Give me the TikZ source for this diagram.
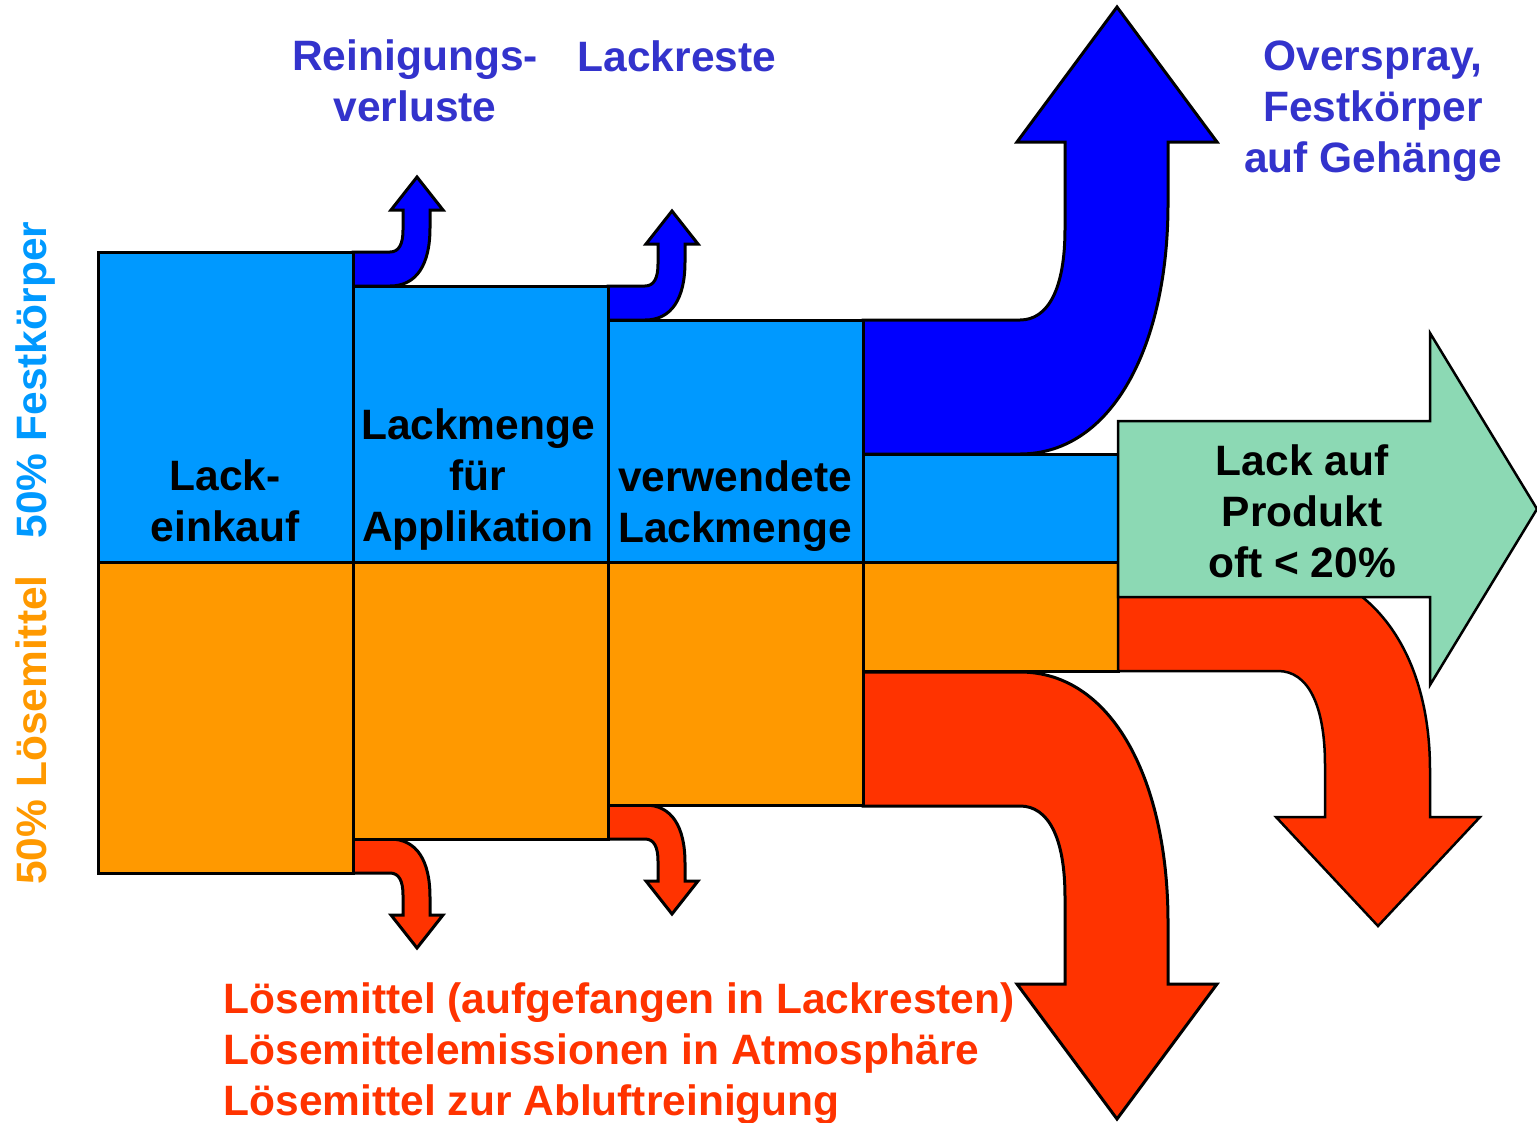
\documentclass[tikz,border=0pt]{standalone}
\usepackage{fontspec}
\setmainfont{Liberation Sans}
\definecolor{solidblue}{RGB}{0,153,255}
\definecolor{solvorange}{RGB}{255,153,0}
\definecolor{lossblue}{RGB}{0,0,255}
\definecolor{lossred}{RGB}{255,51,0}
\definecolor{productgreen}{RGB}{140,217,180}
\definecolor{txtblue}{RGB}{51,51,204}
\begin{document}
\begin{tikzpicture}[x=1pt,y=-1pt,line width=3pt,line join=miter,
  flow/.style={draw=black},
  lbl/.style={font=\fontsize{42.5}{51}\selectfont\bfseries,inner sep=0pt,align=center},
  pics/smallbend/.style={code={
    \path[flow,fill=#1] (0,0) -- (0,-34) -- (37,-34)
      .. controls (46,-34) and (50,-42) .. (50,-56) -- (50,-76)
      -- (38,-76) -- (64,-109) -- (90,-76) -- (77,-76) -- (77,-58)
      .. controls (77,-22) and (64,0) .. (37,0) -- cycle;}},
  pics/bigbend/.style={code={
    \path[flow,fill=#1] (0,0) -- (0,-134) -- (157,-134)
      .. controls (185,-134) and (202,-165) .. (202,-225) -- (202,-312)
      -- (154,-312) -- (254,-447) -- (354,-312) -- (305,-312) -- (305,-250)
      .. controls (305,-110) and (250,0) .. (157,0) -- cycle;}}
]
\useasboundingbox (0,0) rectangle (1537,1122);

% losses leaving the flow: upward for solids, mirrored downward for solvent
\pic at (863,454) {bigbend=lossblue};
\pic[yscale=-1] at (863,672) {bigbend=lossred};
\pic at (353,286) {smallbend=lossblue};
\pic at (608,320) {smallbend=lossblue};
\pic[yscale=-1] at (353,839) {smallbend=lossred};
\pic[yscale=-1] at (608,805) {smallbend=lossred};

% stages: solids on top, solvent below
\path[flow,fill=solidblue] (98,252) rectangle (353,562);
\path[flow,fill=solvorange] (98,562) rectangle (353,873);
\path[flow,fill=solidblue] (353,286) rectangle (608,562);
\path[flow,fill=solvorange] (353,562) rectangle (608,839);
\path[flow,fill=solidblue] (608,320) rectangle (863,562);
\path[flow,fill=solvorange] (608,562) rectangle (863,805);
\path[flow,fill=solidblue] (863,454) rectangle (1118,562);
\path[flow,fill=solvorange] (863,562) rectangle (1118,671);

% remaining solvent, then the product arrow over it
\path[flow,fill=lossred,line width=2.5pt] (1118,563) -- (1118,671) -- (1278,671)
  .. controls (1308,671) and (1325,705) .. (1325,765) -- (1325,817)
  -- (1276,817) -- (1378,926) -- (1480,817) -- (1430,817) -- (1430,770)
  .. controls (1430,650) and (1370,563) .. (1260,563) -- cycle;
\path[flow,fill=productgreen,line width=2.5pt] (1118,421) -- (1430,421) -- (1430,333)
  -- (1537,509) -- (1430,685) -- (1430,597) -- (1118,597) -- cycle;

% labels
\node[lbl] (einkauf) at (225,501) {Lack-\\einkauf};
\node[lbl] (applikation) at (478,480) {Lackmenge\\für\\Applikation};
\node[lbl] (verwendet) at (735,506) {verwendete\\Lackmenge};
\node[lbl] (produkt) at (1302,511) {Lack auf\\Produkt\\oft < 20\%};
\node[lbl,text=txtblue] (reinigung) at (415,81) {Reinigungs-\\verluste};
\node[lbl,text=txtblue] (reste) at (677,56) {Lackreste};
\node[lbl,text=txtblue] (overspray) at (1373,111) {Overspray,\\Festkörper\\auf Gehänge};
\node[lbl,text=lossred,align=left,anchor=west] (loesemittel) at (222,1054)
  {Lösemittel (aufgefangen in Lackresten)\\Lösemittelemissionen in Atmosphäre\\Lösemittel zur Abluftreinigung};
\node[lbl,text=solidblue,rotate=90,anchor=base] (festanteil) at (46,380) {50\% Festkörper};
\node[lbl,text=solvorange,rotate=90,anchor=base] (loesanteil) at (46,730) {50\% Lösemittel};
\end{tikzpicture}
\end{document}
